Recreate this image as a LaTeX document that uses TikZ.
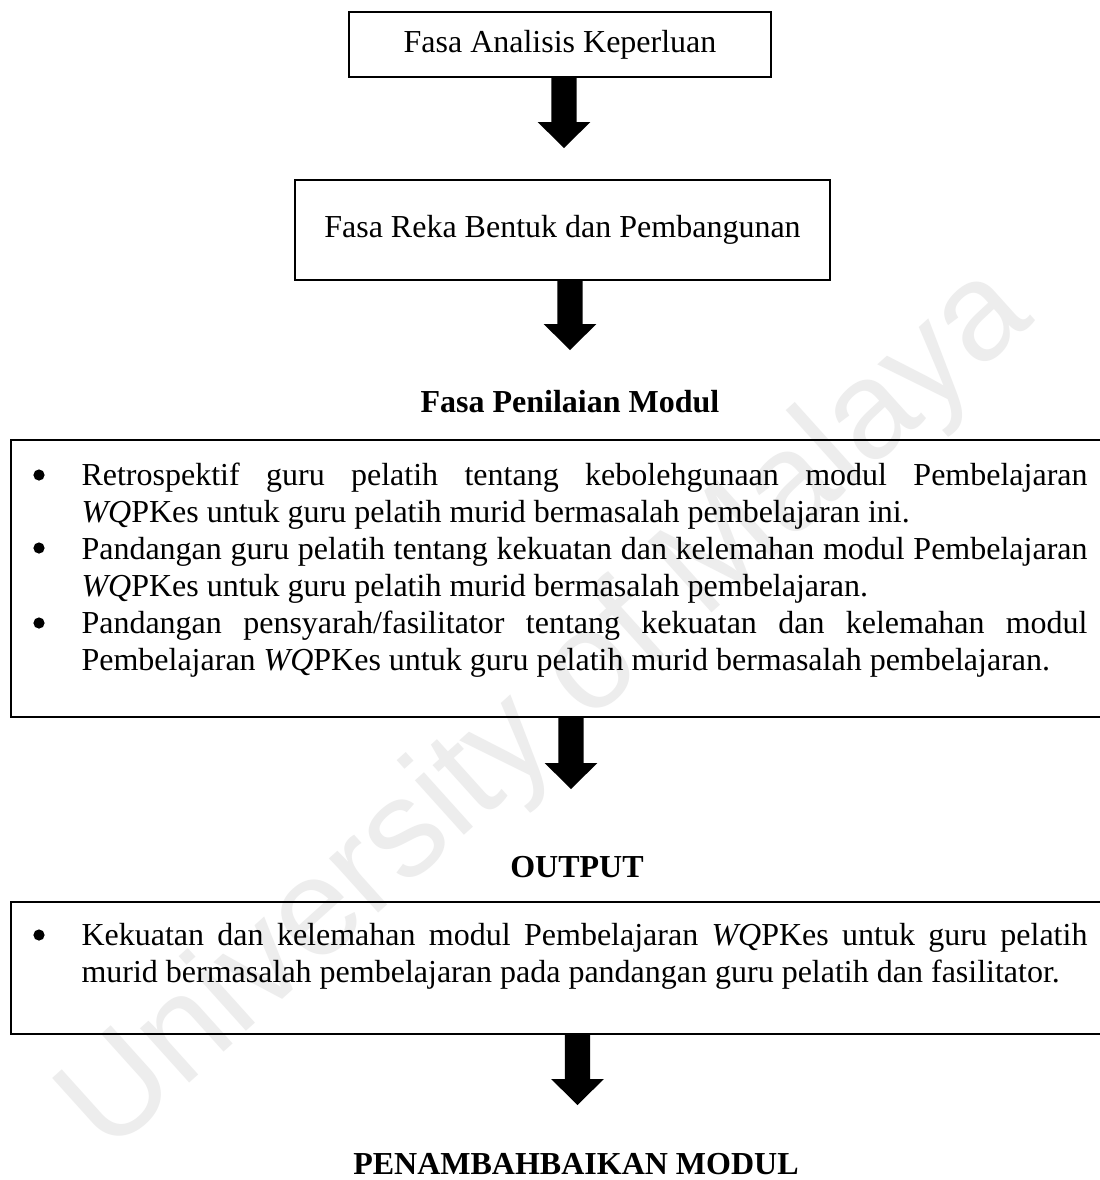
\documentclass[tikz,border=0pt]{standalone}
\usepackage{fontspec}
\setmainfont{Liberation Serif}
\newfontfamily\wmfont{Liberation Sans}
\usetikzlibrary{calc}

% Block arrow pointing down: leaves box #1 at the x of coordinate #2, tip at #2
\newcommand\blockarrow[2]{%
  \fill let \p1=(#1.south -| #2), \p2=(#2) in
    (\x1-4.7pt,\y1) -- (\x1+4.7pt,\y1) -- (\x1+4.7pt,\y2+9.75pt)
    -- (\x1+9.9pt,\y2+9.75pt) -- (\x2,\y2) -- (\x1-9.9pt,\y2+9.75pt)
    -- (\x1-4.7pt,\y2+9.75pt) -- cycle;}

\begin{document}
\begin{tikzpicture}[x=0.375pt,y=-0.375pt,
  every node/.style={font=\fontsize{12}{13.875}\selectfont},
  phasebox/.style={draw, line width=0.75pt, inner sep=0pt, align=center},
  heading/.style={font=\fontsize{12}{13.875}\selectfont\bfseries, inner sep=0pt, anchor=base},
  bodytext/.style={inner sep=0pt, anchor=base west, text width=377.25pt, align=justify},
  bulletdot/.style={circle, fill, inner sep=0pt, minimum size=4.2pt},
  panel/.style={draw=none, inner sep=0pt, minimum width=407.625pt},
  panelline/.style={line width=0.75pt},
  watermark/.style={text=black!7, font=\wmfont\fontsize{52}{60}\selectfont, rotate=42, inner sep=0pt}
]
\useasboundingbox (0,0) rectangle (1099,1180);
\fill[white] (0,0) rectangle (1099,1180);

% faint background lettering
\node[watermark] (wm) at (548,712) {University of Malaya};

% phase boxes
\node[phasebox, minimum width=158.25pt, minimum height=24.375pt] (analisis) at (560,44.5) {Fasa Analisis Keperluan};
\node[phasebox, minimum width=200.625pt, minimum height=37.5pt] (reka) at (562.5,230) {Fasa Reka Bentuk dan Pembangunan};

% evaluation phase
\node[heading] (penilaian) at (570,412) {Fasa Penilaian Modul};
\node[panel, minimum height=103.125pt] (nilai) at (555.5,578.5) {};
\draw[panelline] (nilai.north east) -- (nilai.north west) -- (nilai.south west) -- (nilai.south east);

\node[bulletdot] (b1) at (39,475) {};
\node[bodytext] (t1) at (81,485) {Retrospektif guru pelatih tentang kebolehgunaan modul Pembelajaran\linebreak
  \textit{WQ}PKes untuk guru pelatih murid bermasalah pembelajaran ini.};
\node[bulletdot] (b2) at (39,548) {};
\node[bodytext] (t2) at (81,559) {Pandangan guru pelatih tentang kekuatan dan kelemahan modul Pembelajaran\linebreak
  \textit{WQ}PKes untuk guru pelatih murid bermasalah pembelajaran.};
\node[bulletdot] (b3) at (39,623) {};
\node[bodytext] (t3) at (81,633) {Pandangan pensyarah/fasilitator tentang kekuatan dan kelemahan modul\linebreak
  Pembelajaran \textit{WQ}PKes untuk guru pelatih murid bermasalah pembelajaran.};

% output
\node[heading] (output) at (577,877) {OUTPUT};
\node[panel, minimum height=48.75pt] (hasil) at (555.5,968) {};
\draw[panelline] (hasil.north east) -- (hasil.north west) -- (hasil.south west) -- (hasil.south east);
\node[bulletdot] (b4) at (39,935) {};
\node[bodytext] (t4) at (81,945) {Kekuatan dan kelemahan modul Pembelajaran \textit{WQ}PKes untuk guru pelatih\linebreak
  murid bermasalah pembelajaran pada pandangan guru pelatih dan fasilitator.};

\node[heading] (tambah) at (576,1174) {PENAMBAHBAIKAN MODUL};

% arrows between the stages
\coordinate (tip1) at (564,148);
\coordinate (tip2) at (570,350);
\coordinate (tip3) at (571,789);
\coordinate (tip4) at (577.5,1105);
\blockarrow{analisis}{tip1}
\blockarrow{reka}{tip2}
\blockarrow{nilai}{tip3}
\blockarrow{hasil}{tip4}
\end{tikzpicture}
\end{document}
